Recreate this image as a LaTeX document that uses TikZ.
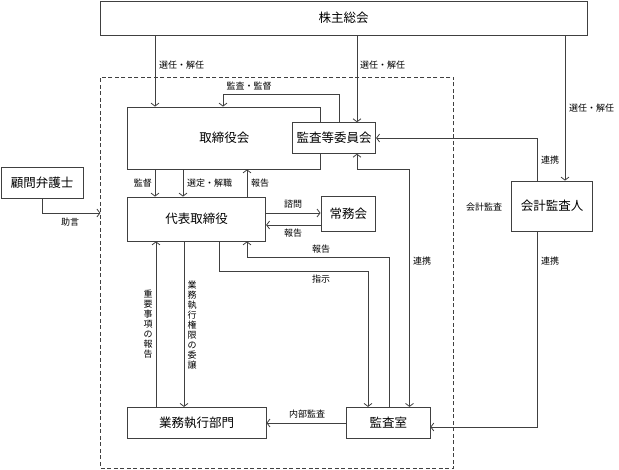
\documentclass[tikz,border=0pt]{standalone}
\usepackage{fontspec}
\usepackage{tikz}
\usetikzlibrary{arrows.meta}
\newfontfamily\jp{Noto Sans CJK JP}
\newcommand{\boxfont}{\jp\fontsize{12.5}{14}\selectfont}
\newcommand{\lblfont}{\jp\fontsize{9}{10}\selectfont}
\definecolor{linecol}{gray}{0.25}
\tikzset{
	box/.style={draw=linecol, line width=0.8pt, fill=white, inner sep=0pt, font=\boxfont},
	lbl/.style={font=\lblfont, inner sep=1pt},
	tate/.style={font=\lblfont, inner sep=0pt, align=center},
	ln/.style={draw=linecol, line width=0.8pt},
	arr/.style={ln, -{Straight Barb[length=3pt,width=8pt]}},
	biarr/.style={ln, {Straight Barb[length=3pt,width=8pt]}-{Straight Barb[length=3pt,width=8pt]}},
	waku/.style={draw=linecol, line width=0.8pt, dash pattern=on 4pt off 2.5pt, inner sep=0pt}
}

\begin{document}
\begin{tikzpicture}[x=1pt, y=-1pt]
	\useasboundingbox (0,0) rectangle (619,470);
	% frame and boxes
	\node[waku, minimum width=353pt, minimum height=391pt] (frame) at (277.3,272.5) {};
	\node[box, minimum width=487pt, minimum height=34pt] (kabunushi) at (343.5,18) {株主総会};
	\node[box, minimum width=193pt, minimum height=62pt] (torishimari) at (224.3,138) {取締役会};
	\node[box, minimum width=83pt, minimum height=30.6pt] (kansa) at (334.2,138) {監査等委員会};
	\node[box, minimum width=138pt, minimum height=44pt] (daihyo) at (196.7,219) {代表取締役};
	\node[box, minimum width=54.7pt, minimum height=35pt] (jomu) at (348.3,214.2) {常務会};
	\node[box, minimum width=138.7pt, minimum height=31.4pt] (gyomu) at (196.7,423) {業務執行部門};
	\node[box, minimum width=83.3pt, minimum height=31.4pt] (kansashitsu) at (388.3,423) {監査室};
	\node[box, minimum width=81pt, minimum height=50pt] (kaikei) at (552.2,206) {会計監査人};
	\node[box, minimum width=82.3pt, minimum height=30.6pt] (komon) at (42.2,183) {顧問弁護士};

	% shareholders
	\draw[arr] (155,0 |- kabunushi.south) -- (155,0 |- torishimari.north);
	\node[lbl, anchor=west] (sen1) at (158,65) {選任・解任};
	\draw[arr] (357,0 |- kabunushi.south) -- (357,0 |- kansa.north);
	\node[lbl, anchor=west] (sen2) at (359,65) {選任・解任};
	\draw[arr] (565,0 |- kabunushi.south) -- (565,0 |- kaikei.north);
	\node[lbl, anchor=west] (sen3) at (568,108) {選任・解任};

	% board
	\draw[arr] (339,0 |- kansa.north) -- (339,94) -- (223,94) -- (223,0 |- torishimari.north);
	\node[lbl] (kantoku1) at (249,86) {監査・監督};
	\draw[arr] (155,0 |- torishimari.south) -- (155,0 |- daihyo.north);
	\node[lbl, anchor=east] (kantoku2) at (153,183) {監督};
	\draw[arr] (183,0 |- torishimari.south) -- (183,0 |- daihyo.north);
	\node[lbl, anchor=west] (sentei) at (186,183) {選定・解職};
	\draw[arr] (247,0 |- daihyo.north) -- (247,0 |- torishimari.south);
	\node[lbl, anchor=west] (hokoku1) at (250,183) {報告};

	% executive committee
	\draw[arr] (daihyo.east |- 0,213) -- (jomu.west |- 0,213);
	\node[lbl] (shimon) at (293,204) {諮問};
	\draw[arr] (jomu.west |- 0,225) -- (daihyo.east |- 0,225);
	\node[lbl] (hokoku2) at (293,233) {報告};

	% audit office
	\draw[arr] (389,0 |- kansashitsu.north) -- (389,257) -- (247,257) -- (247,0 |- daihyo.south);
	\node[lbl] (hokoku3) at (321,249) {報告};
	\draw[arr] (219,0 |- daihyo.south) -- (219,271) -- (368,271) -- (368,0 |- kansashitsu.north);
	\node[lbl] (shiji) at (321,279) {指示};
	\draw[biarr] (409.5,0 |- kansashitsu.north) -- (409.5,169) -- (357,169) -- (357,0 |- kansa.south);
	\node[lbl, anchor=west] (renkei1) at (412,261) {連携};
	\draw[arr] (kansashitsu.west) -- (gyomu.east);
	\node[lbl] (naibu) at (307,414) {内部監査};

	% business divisions
	\draw[arr] (184,0 |- daihyo.south) -- (184,0 |- gyomu.north);
	\node[tate] (inin) at (192,325) {業\\務\\執\\行\\権\\限\\の\\委\\譲};
	\draw[arr] (156,0 |- gyomu.north) -- (156,0 |- daihyo.south);
	\node[tate] (juyo) at (148,324) {重\\要\\事\\項\\の\\報\\告};

	% accounting auditor
	\draw[arr] (537,0 |- kaikei.north) -- (537,138) -- (kansa.east |- 0,138);
	\node[lbl, anchor=west] (renkei2) at (540,160) {連携};
	\draw[arr] (537,0 |- kaikei.south) -- (537,427) -- (kansashitsu.east |- 0,427);
	\node[lbl, anchor=west] (renkei3) at (540,261) {連携};
	\node[lbl] (kaikeikansa) at (484,207) {会計監査};

	% lawyer
	\draw[arr] (42,0 |- komon.south) -- (42,213) -- (frame.west |- 0,213);
	\node[lbl] (jogen) at (70,222) {助言};
\end{tikzpicture}
\end{document}
